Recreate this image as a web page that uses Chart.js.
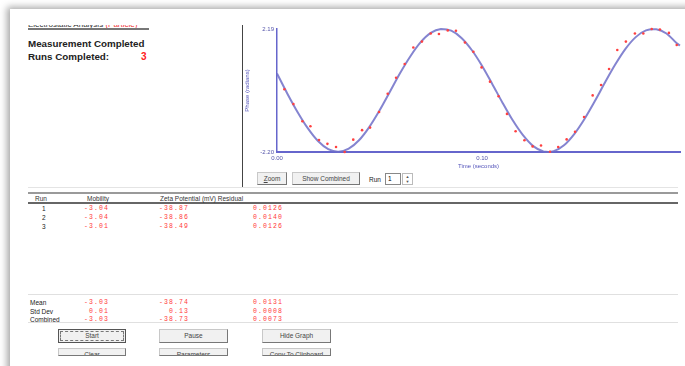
<!DOCTYPE html>
<html>
<head>
<meta charset="utf-8">
<script src="https://cdn.jsdelivr.net/npm/chart.js@4"></script>
<style>
  html, body { margin: 0; padding: 0; }
  body { width: 685px; height: 366px; overflow: hidden; background: #fff; position: relative;
         font-family: "Liberation Sans", Arial, sans-serif; }
  .win { position: absolute; left: 10px; top: 9px; width: 700px; height: 400px; background: #fff;
         box-shadow: -3px -2px 7px rgba(0,0,0,0.35); }
  .abs { position: absolute; white-space: nowrap; }
  .hdr { font-size: 6.5px; color: #333; line-height: 7px; }
  .lbl { font-size: 6.5px; color: #222; line-height: 7px; }
  .val { font-family: "Liberation Mono", "Courier New", monospace; font-size: 6.5px; color: #ff3a3a;
         letter-spacing: 1.1px; text-align: right; width: 60px; line-height: 7px; }
  .rule { position: absolute; left: 28px; width: 650px; }
  .btn { position: absolute; background: #f1f1f1; border: 1px solid #c8c8c8; border-right-color: #777;
         border-bottom-color: #777; font-size: 6.5px; color: #444; text-align: center; box-sizing: border-box; }
</style>
</head>
<body>
<div class="win"></div>

<!-- clipped heading + underline -->
<div class="abs" style="left:28px;top:25px;width:121px;height:3px;overflow:hidden;">
  <div style="position:absolute;top:-5px;font-size:8px;color:#333;">Electrostatic Analysis <span style="color:#e33">(Particle)</span></div>
</div>
<div class="abs" style="left:28px;top:28px;width:121px;height:2px;background:#777;"></div>

<div class="abs" style="left:28px;top:37px;font-size:9.8px;font-weight:bold;color:#222;line-height:13px;">Measurement Completed<br>Runs Completed:</div>
<div class="abs" style="left:141px;top:51px;font-size:10px;font-weight:bold;color:#ff2020;">3</div>

<!-- separator left of graph -->
<div class="abs" style="left:242px;top:25px;width:1px;height:162px;background:#444;"></div>

<div class="abs" style="left:244px;top:18px;width:440px;height:152px;">
  <canvas id="phase-chart" width="440" height="152"></canvas>
</div>

<!-- graph controls -->
<div class="btn" style="left:257px;top:172px;width:30px;height:13px;line-height:11px;"><u>Z</u>oom</div>
<div class="btn" style="left:292px;top:172px;width:68px;height:13px;line-height:11px;">Show Combined</div>
<div class="abs lbl" style="left:369px;top:176px;">Run</div>
<div class="abs" style="left:385px;top:173px;width:16px;height:12px;border:1px solid #888;box-sizing:border-box;font-size:6.5px;padding-left:2px;line-height:10px;">1</div>
<div class="abs" style="left:402px;top:173px;width:11px;height:12px;border:1px solid #bbb;box-sizing:border-box;font-size:4px;text-align:center;line-height:5px;color:#555;">&#9650;<br>&#9660;</div>

<!-- table rules -->
<div class="rule" style="top:187px;height:1px;background:#e4e4e4;"></div>
<div class="rule" style="top:192px;height:2px;background:#9a9a9a;"></div>
<div class="rule" style="top:202px;height:2px;background:#666;"></div>
<div class="rule" style="top:294px;height:1px;background:#e0e0e0;"></div>
<div class="rule" style="top:322px;height:1px;background:#e0e0e0;"></div>

<div id="table"></div>

<!-- buttons -->
<div class="btn" style="left:58px;top:329px;width:68px;height:14px;border-color:#555;">
  <div style="position:absolute;left:1px;top:1px;right:1px;bottom:1px;border:1px dashed #777;line-height:8px;">Start</div>
</div>
<div class="btn" style="left:159px;top:329px;width:69px;height:14px;line-height:12px;">Pause</div>
<div class="btn" style="left:262px;top:329px;width:69px;height:14px;line-height:12px;">Hide Graph</div>
<div class="btn" style="left:58px;top:348px;width:68px;height:8px;line-height:12px;overflow:hidden;">Clear</div>
<div class="btn" style="left:159px;top:348px;width:69px;height:8px;line-height:12px;overflow:hidden;">Parameters</div>
<div class="btn" style="left:262px;top:348px;width:69px;height:8px;line-height:12px;overflow:hidden;">Copy To Clipboard</div>

<script>
// Fitted phase curve
const fitTimes = [0.000, 0.005, 0.010, 0.015, 0.020, 0.025, 0.030, 0.035, 0.040, 0.045,
                  0.050, 0.055, 0.060, 0.065, 0.070, 0.075, 0.080, 0.085, 0.090, 0.095,
                  0.100, 0.105, 0.110, 0.115, 0.120, 0.125, 0.130, 0.135, 0.140, 0.145,
                  0.150, 0.155, 0.160, 0.165, 0.170, 0.175, 0.180, 0.185, 0.190, 0.195, 0.1966];
const fitPhase = [0.60, -0.11, -0.77, -1.35, -1.81, -2.10, -2.19, -2.08, -1.78, -1.31,
                  -0.72, -0.06, 0.61, 1.21, 1.71, 2.05, 2.19, 2.13, 1.87, 1.44,
                  0.88, 0.23, -0.44, -1.07, -1.60, -1.99, -2.18, -2.17, -1.96, -1.56,
                  -1.02, -0.39, 0.28, 0.92, 1.48, 1.90, 2.14, 2.18, 2.03, 1.68, 1.60];

// Measured phase points
const measTimes = [0.0036, 0.0080, 0.0124, 0.0163, 0.0205, 0.0246, 0.0288, 0.0330, 0.0372, 0.0415,
                   0.0454, 0.0498, 0.0540, 0.0581, 0.0623, 0.0665, 0.0707, 0.0750, 0.0790, 0.0833,
                   0.0873, 0.0917, 0.0958, 0.0998, 0.1039, 0.1081, 0.1122, 0.1164, 0.1207, 0.1247,
                   0.1288, 0.1332, 0.1372, 0.1413, 0.1454, 0.1498, 0.1540, 0.1581, 0.1620, 0.1660,
                   0.1702, 0.1746, 0.1787, 0.1828, 0.1868, 0.1912, 0.1950];
const measPhase = [0.04, -0.49, -1.10, -1.28, -1.77, -1.91, -2.02, -2.20, -1.76, -1.42,
                   -1.33, -0.77, -0.12, 0.45, 0.94, 1.53, 1.74, 2.03, 2.01, 2.14,
                   2.13, 1.71, 1.38, 0.82, 0.31, -0.21, -0.84, -1.46, -1.78, -2.00,
                   -1.97, -2.19, -2.02, -1.75, -1.48, -0.95, -0.18, 0.19, 0.76, 1.44,
                   1.74, 2.03, 2.03, 2.19, 2.17, 2.05, 1.62];

const yTicks = [-2.20, 2.19];
const xTicks = [0.00, 0.10];

// Results table
const runs = ['1', '2', '3'];
const mobility = ['-3.04', '-3.04', '-3.01'];
const zeta = ['-38.87', '-38.86', '-38.49'];
const residual = ['0.0126', '0.0140', '0.0126'];
const statLabels = ['Mean', 'Std Dev', 'Combined'];
const statMobility = ['-3.03', '0.01', '-3.03'];
const statZeta = ['-38.74', '0.13', '-38.73'];
const statResidual = ['0.0131', '0.0008', '0.0073'];

function valueCells(top, mob, zp, res) {
    // right edges of the three numeric columns: 108, 188, 282
    return `<div class="abs val" style="left:49px;top:${top}px;">${mob}</div>` +
           `<div class="abs val" style="left:129px;top:${top}px;">${zp}</div>` +
           `<div class="abs val" style="left:223px;top:${top}px;">${res}</div>`;
}

function buildTable() {
    let html = '';
    html += '<div class="abs hdr" style="left:35px;top:195px;">Run</div>';
    html += '<div class="abs hdr" style="left:87px;top:195px;">Mobility</div>';
    html += '<div class="abs hdr" style="left:160px;top:195px;">Zeta Potential (mV) Residual</div>';
    runs.forEach((r, i) => {
        const top = 205 + i * 9;
        html += `<div class="abs lbl" style="left:42px;top:${top}px;">${r}</div>`;
        html += valueCells(top, mobility[i], zeta[i], residual[i]);
    });
    statLabels.forEach((s, i) => {
        const top = 299 + i * 8.5;
        html += `<div class="abs lbl" style="left:30px;top:${top}px;">${s}</div>`;
        html += valueCells(top, statMobility[i], statZeta[i], statResidual[i]);
    });
    document.getElementById('table').innerHTML = html;
}

function initializePhaseChart() {
    const ctx = document.getElementById('phase-chart').getContext('2d');
    const axisBlue = '#6666cc';

    new Chart(ctx, {
        type: 'scatter',
        data: {
            datasets: [{
                label: 'Fit',
                data: fitTimes.map((t, i) => ({ x: t, y: fitPhase[i] })),
                showLine: true,
                borderColor: 'rgba(110, 110, 200, 0.85)',
                borderWidth: 2,
                pointRadius: 0,
                tension: 0.3,
                order: 2
            }, {
                label: 'Measured',
                data: measTimes.map((t, i) => ({ x: t, y: measPhase[i] })),
                showLine: false,
                backgroundColor: '#ff4040',
                borderColor: '#ff4040',
                pointRadius: 1.3,
                borderWidth: 0,
                order: 1
            }]
        },
        options: {
            responsive: false,
            animation: false,
            clip: false,
            layout: { padding: { top: 11, right: 4, left: 0, bottom: 0 } },
            plugins: {
                legend: { display: false },
                tooltip: { enabled: false }
            },
            scales: {
                x: {
                    type: 'linear',
                    min: 0,
                    max: 0.1966,
                    afterBuildTicks: s => { s.ticks = xTicks.map(v => ({ value: v })); },
                    afterFit: s => { s.height = 18; },
                    grid: { display: false, drawTicks: false },
                    border: { color: axisBlue, width: 2 },
                    ticks: {
                        padding: 3,
                        font: { size: 6, family: 'Liberation Sans' },
                        color: '#5555aa',
                        maxRotation: 0,
                        callback: v => v.toFixed(2)
                    },
                    title: {
                        display: true,
                        text: 'Time (seconds)',
                        color: '#5555bb',
                        font: { size: 6, family: 'Liberation Sans' },
                        padding: { top: 0, bottom: 0 }
                    }
                },
                y: {
                    min: -2.20,
                    max: 2.19,
                    afterBuildTicks: s => { s.ticks = yTicks.map(v => ({ value: v })); },
                    afterFit: s => { s.width = 33; },
                    grid: { display: false, drawTicks: false },
                    border: { color: axisBlue, width: 1.5 },
                    ticks: {
                        padding: 3,
                        font: { size: 6, family: 'Liberation Sans' },
                        color: '#5555aa',
                        callback: v => v.toFixed(2)
                    },
                    title: {
                        display: true,
                        text: 'Phase (radians)',
                        color: '#5555bb',
                        font: { size: 6, family: 'Liberation Sans' },
                        padding: { top: 0, bottom: 0 }
                    }
                }
            }
        }
    });
}

buildTable();
initializePhaseChart();
</script>
</body>
</html>
